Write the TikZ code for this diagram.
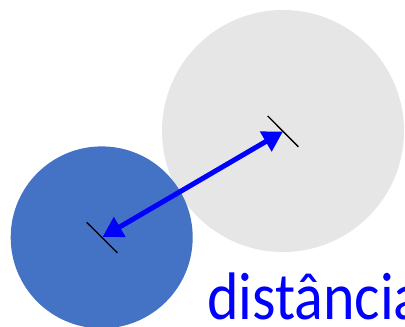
\documentclass[tikz,border=0pt]{standalone}
\usepackage{fontspec}
\setmainfont{Carlito}
\usetikzlibrary{arrows.meta}
\definecolor{lightgraycircle}{HTML}{E6E6E6}
\definecolor{bluecircle}{HTML}{4472C4}
\tikzset{
  ball/.style={circle, inner sep=0pt, draw=none},
  tickmark/.style={draw=black, line width=1.3pt},
  distarrow/.style={draw={rgb,255:red,0;green,0;blue,255}, line width=5pt,
    {Triangle[length=20pt,width=22pt]}-{Triangle[length=20pt,width=22pt]}, shorten <=0pt, shorten >=0pt},
}
\begin{document}
\begin{tikzpicture}[x=1pt,y=-1pt]
\useasboundingbox (0,0) rectangle (405,327);
\clip (0,0) rectangle (405,327);
\node[ball, fill=lightgraycircle, minimum size=242pt] (g) at (283,131) {};
\node[ball, fill=bluecircle, minimum size=182pt] (b) at (101.7,237.4) {};
\coordinate (pb) at (102.5,237);
\coordinate (pg) at (283,131.5);
\draw[tickmark] (86.7,222.3) -- (117.3,252.7);
\draw[tickmark] (267.7,116) -- (298.3,146.7);
\draw[distarrow] (pb) -- (pg);
\node[anchor=base west, inner sep=0pt, text={rgb,255:red,0;green,0;blue,255}, font=\fontsize{60}{64}\selectfont] (t) at (207,319) {\scalebox{1}[1.12]{distância}};
\end{tikzpicture}
\end{document}
